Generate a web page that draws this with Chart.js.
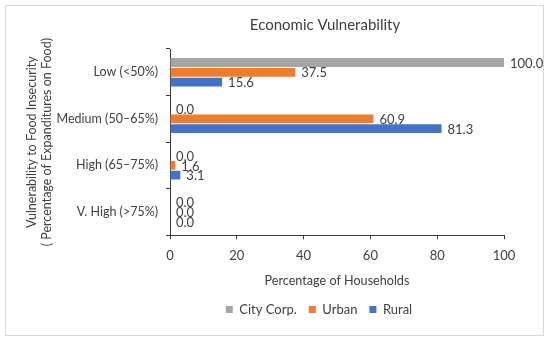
<!DOCTYPE html>
<html>
<head>
<meta charset="utf-8">
<script src="https://cdn.jsdelivr.net/npm/chart.js@4.4.1/dist/chart.umd.min.js"></script>
<style>
  body { margin: 0; background: #fff; }
  #wrap { position: relative; width: 550px; height: 341px; }
  #frame {
    position: absolute; left: 5px; top: 5px; width: 537px; height: 329px;
    border: 1px solid #d9d9d9; pointer-events: none;
  }
  canvas { position: absolute; left: 0; top: 0; }
</style>
</head>
<body>
<div id="wrap">
  <canvas id="myChart" width="550" height="341"></canvas>
  <div id="frame"></div>
</div>
<script>
const categories = ["Low (<50%)", "Medium (50\u201365%)", "High (65\u201375%)", "V. High (>75%)"];
const cityCorp = [100.0, 0.0, 0.0, 0.0];
const urban = [37.5, 60.9, 1.6, 0.0];
const rural = [15.6, 81.3, 3.1, 0.0];
const xTicks = [0, 20, 40, 60, 80, 100];

const textColor = "#404040";
const axisColor = "#3a3a3a";
const fontFamily = "Lato, 'Noto Sans', sans-serif";

// value labels at the end of every bar
const barLabels = {
  id: "barLabels",
  afterDatasetsDraw(chart) {
    const ctx = chart.ctx;
    ctx.save();
    ctx.font = "13px " + fontFamily;
    ctx.fillStyle = textColor;
    ctx.textAlign = "left";
    ctx.textBaseline = "middle";
    chart.data.datasets.forEach((ds, i) => {
      chart.getDatasetMeta(i).data.forEach((bar, j) => {
        ctx.fillText(ds.data[j].toFixed(1), bar.x + 6, bar.y + 1);
      });
    });
    ctx.restore();
  }
};

// title and legend sit a bit right of the canvas centre in the original
const shiftBlocks = {
  id: "shiftBlocks",
  afterLayout(chart) {
    if (chart.titleBlock) { chart.titleBlock.left += 62; chart.titleBlock.right += 62; }
    if (chart.legend) { chart.legend.left += 56; chart.legend.right += 56; }
  }
};

new Chart(document.getElementById("myChart"), {
  type: "bar",
  data: {
    labels: categories,
    datasets: [
      { label: "City Corp.", data: cityCorp, backgroundColor: "#A5A5A5", borderWidth: 0 },
      { label: "Urban", data: urban, backgroundColor: "#ED7D31", borderWidth: 0 },
      { label: "Rural", data: rural, backgroundColor: "#4472C4", borderWidth: 0 },
    ],
  },
  options: {
    indexAxis: "y",
    responsive: false,
    animation: false,
    categoryPercentage: 0.63,
    barPercentage: 0.9,
    layout: {
      padding: { left: 22, right: 46, top: 6, bottom: 15 },
    },
    scales: {
      x: {
        min: 0,
        max: 100,
        afterBuildTicks: (axis) => {
          axis.ticks = xTicks.map(v => ({ value: v }));
        },
        ticks: { color: textColor, font: { family: fontFamily, size: 13 }, padding: 9 },
        grid: { drawOnChartArea: false, tickLength: 4, color: axisColor },
        border: { color: axisColor, width: 1 },
        title: {
          display: true,
          text: "Percentage of Households",
          color: textColor,
          font: { family: fontFamily, size: 12.6 },
          padding: { top: 0, bottom: 3 },
        },
      },
      y: {
        afterFit: (axis) => { axis.width = 148; },
        ticks: { color: textColor, font: { family: fontFamily, size: 12.5 }, padding: 8 },
        grid: { drawOnChartArea: false, tickLength: 4, color: axisColor },
        border: { color: axisColor, width: 1 },
        title: {
          display: true,
          text: ["Vulnerability to Food Insecurity", "( Percentage of Expanditures on Food)"],
          color: textColor,
          font: { family: fontFamily, size: 12.5, lineHeight: 1.18 },
          padding: { top: 3, bottom: 4 },
        },
      },
    },
    plugins: {
      title: {
        display: true,
        text: "Economic Vulnerability",
        color: textColor,
        font: { family: fontFamily, size: 15, weight: "normal" },
        padding: { top: 10, bottom: 15 },
      },
      legend: {
        position: "bottom",
        labels: {
          color: textColor,
          font: { family: fontFamily, size: 13 },
          boxWidth: 7,
          boxHeight: 7,
          padding: 12,
        },
      },
      tooltip: { enabled: false },
    },
  },
  plugins: [barLabels, shiftBlocks],
});
</script>
</body>
</html>
